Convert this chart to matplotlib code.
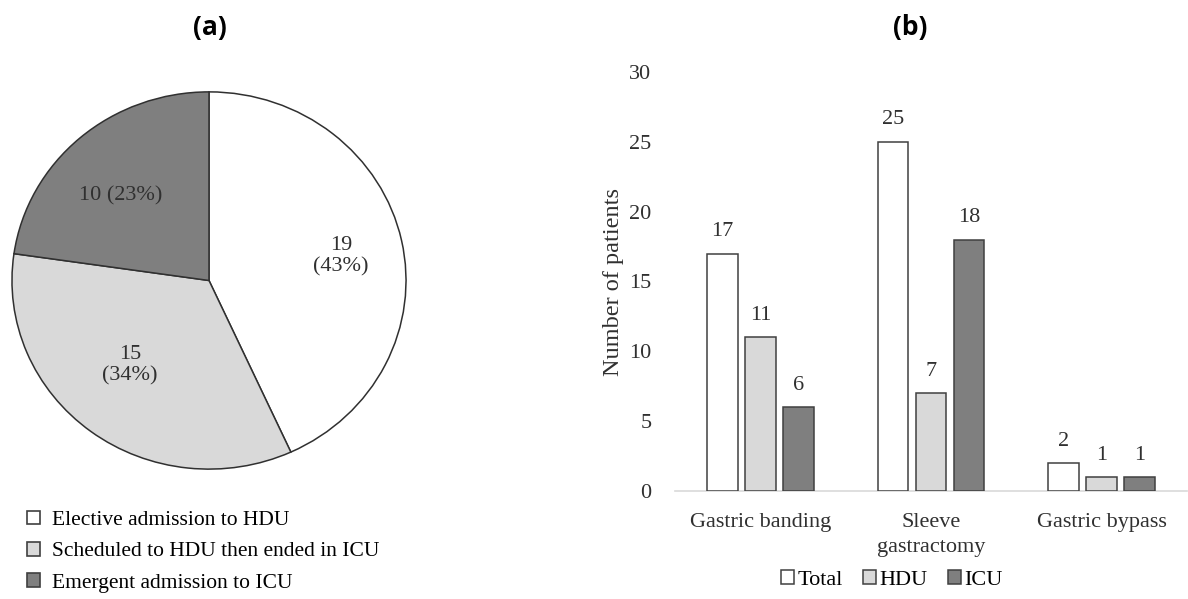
import numpy as np
import matplotlib
matplotlib.use("Agg")
import matplotlib.pyplot as plt
from matplotlib.patches import Patch

plt.rcParams["font.family"] = ["Liberation Serif", "DejaVu Serif"]

# (a) admission pathway
pie_labels = ["Elective admission to HDU",
              "Scheduled to HDU then ended in ICU",
              "Emergent admission to ICU"]
pie_counts = [19, 15, 10]

# (b) procedures
procedures = ["Gastric banding", "Sleeve\ngastractomy", "Gastric bypass"]
series_names = ["Total", "HDU", "ICU"]
total = [17, 25, 2]
hdu = [11, 7, 1]
icu = [6, 18, 1]
yticks = [0, 5, 10, 15, 20, 25, 30]

colors = ["#ffffff", "#d9d9d9", "#7f7f7f"]
edge = "#404040"

fig = plt.figure(figsize=(11.88, 5.99), dpi=100)

# ---- pie ----
ax1 = fig.add_axes([10 / 1188, 1 - 471 / 599, 398 / 1188, 381 / 599])
wedges, _ = ax1.pie(pie_counts, colors=colors, startangle=90, counterclock=False,
                    wedgeprops=dict(edgecolor="#303030", linewidth=1.1))
ax1.set_aspect("auto")
ax1.set_xlim(-1.01, 1.01)
ax1.set_ylim(-1.01, 1.01)
tot = sum(pie_counts)
pct = [round(100 * c / tot) for c in pie_counts]
label_pos = [(0.67, 0.13), (-0.40, -0.45), (-0.45, 0.45)]
texts = [f"{pie_counts[0]}\n({pct[0]}%)", f"{pie_counts[1]}\n({pct[1]}%)",
         f"{pie_counts[2]} ({pct[2]}%)"]
for (x, y), t in zip(label_pos, texts):
    ax1.text(x, y, t, ha="center", va="center", fontsize=16, color="#303030",
             linespacing=1.15)
fig.text(210 / 1188, 1 - 28 / 599, "(a)", ha="center", va="center",
         fontsize=19, fontweight="bold", family=["Open Sans", "DejaVu Sans"])

handles = [Patch(facecolor=c, edgecolor=edge, linewidth=1.2) for c in colors]
fig.legend(handles, pie_labels, loc="upper left",
           bbox_to_anchor=(18 / 1188, 1 - 502 / 599), frameon=False,
           fontsize=15.5, handlelength=0.6, handleheight=0.6,
           handletextpad=0.6, labelspacing=0.55, borderaxespad=0)

# ---- bars ----
ax2 = fig.add_axes([675 / 1188, 1 - 491 / 599, 512 / 1188, 419 / 599])
x = np.arange(len(procedures))
w = 0.18
step = 0.222
for i, (vals, c, name) in enumerate(zip([total, hdu, icu], colors, series_names)):
    bars = ax2.bar(x + (i - 1) * step, vals, w, color=c, edgecolor=edge,
                   linewidth=1.1, label=name, zorder=3)
    for b, v in zip(bars, vals):
        ax2.annotate(str(v), (b.get_x() + b.get_width() / 2, v),
                     xytext=(0, 9), textcoords="offset points",
                     ha="center", va="bottom", fontsize=16, color="#303030")

ax2.set_xlim(-0.5, 2.5)
ax2.set_ylim(0, 30)
ax2.set_yticks(yticks)
ax2.set_xticks(x)
ax2.set_xticklabels(procedures, fontsize=16, linespacing=1.4)
ax2.tick_params(axis="y", length=0, pad=17, labelsize=16, labelcolor="#303030")
ax2.tick_params(axis="x", length=0, pad=16, labelcolor="#303030")
for s in ["top", "right", "left"]:
    ax2.spines[s].set_visible(False)
ax2.spines["bottom"].set_color("#d9d9d9")
ax2.spines["bottom"].set_linewidth(1.2)
ax2.set_ylabel("Number of patients", fontsize=17.5, color="#303030", labelpad=4)

fig.legend(*ax2.get_legend_handles_labels(), loc="center",
           bbox_to_anchor=(892 / 1188, 1 - 580 / 599), ncol=3, frameon=False,
           fontsize=16, handlelength=0.6, handleheight=0.6, handletextpad=0.15,
           columnspacing=0.9, borderaxespad=0)

fig.text(910 / 1188, 1 - 28 / 599, "(b)", ha="center", va="center",
         fontsize=19, fontweight="bold", family=["Open Sans", "DejaVu Sans"])

fig.savefig("out.png", dpi=100)
